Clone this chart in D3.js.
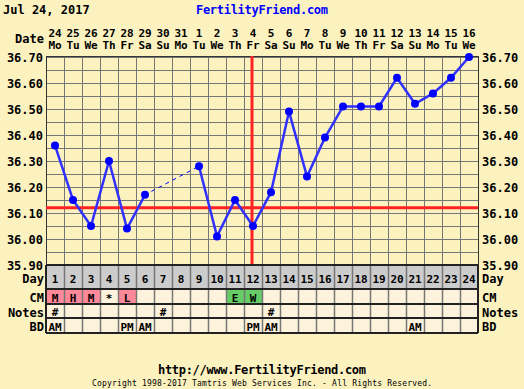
<!DOCTYPE html>
<html>
<head>
<meta charset="utf-8">
<script src="https://cdn.jsdelivr.net/npm/d3@7/dist/d3.min.js"></script>
<style>
  body { margin: 0; background: #fcf2c0; }
  svg { display: block; }
  text { font-family: "DejaVu Sans Mono", monospace; font-weight: bold; font-size: 12px; fill: #000; }
  .sm { font-size: 11px; }
</style>
</head>
<body>
<div id="chart"></div>
<script>
// chart data
const dayNums = d3.range(1, 25);
const dates = ['24', '25', '26', '27', '28', '29', '30', '31', '1', '2', '3', '4',
  '5', '6', '7', '8', '9', '10', '11', '12', '13', '14', '15', '16'];
const weekdays = ['Mo', 'Tu', 'We', 'Th', 'Fr', 'Sa', 'Su', 'Mo', 'Tu', 'We', 'Th', 'Fr',
  'Sa', 'Su', 'Mo', 'Tu', 'We', 'Th', 'Fr', 'Sa', 'Su', 'Mo', 'Tu', 'We'];
// null = no temperature recorded
const temps = [36.36, 36.15, 36.05, 36.30, 36.04, 36.17, null, null, 36.28, 36.01,
  36.15, 36.05, 36.18, 36.49, 36.24, 36.39, 36.51, 36.51, 36.51, 36.62,
  36.52, 36.56, 36.62, 36.70];
const yTicks = [36.70, 36.60, 36.50, 36.40, 36.30, 36.20, 36.10, 36.00, 35.90];
const coverline = 36.12;
const ovulationDay = 12;
const cm = ['M', 'H', 'M', '*', 'L', '', '', '', '', '', 'E', 'W',
  '', '', '', '', '', '', '', '', '', '', '', ''];
const notes = ['#', '', '', '', '', '', '#', '', '', '', '', '',
  '#', '', '', '', '', '', '', '', '', '', '', ''];
const bd = ['AM', '', '', '', 'PM', 'AM', '', '', '', '', '', 'PM',
  'AM', '', '', '', '', '', '', '', 'AM', '', '', ''];
const rowLabels = ['Day', 'CM', 'Notes', 'BD'];

const W = 524, H = 389;
const plotLeft = 46, colW = 18;
const plotRight = plotLeft + colW * dayNums.length;
const plotTop = 57, plotBottom = 265;

const svg = d3.select('#chart').append('svg')
  .attr('width', W)
  .attr('height', H);

svg.append('rect')
  .attr('width', W).attr('height', H)
  .attr('fill', '#fcf2c0');

// scales
const x = d3.scaleBand()
  .domain(dayNums)
  .range([plotLeft, plotRight]);
const y = d3.scaleLinear()
  .domain([35.9, 36.7])
  .range([plotBottom, plotTop]);

// header
svg.append('text').attr('x', 3).attr('y', 14).text('Jul 24, 2017');
svg.append('text').attr('x', 262).attr('y', 14)
  .attr('text-anchor', 'middle').style('fill', '#0000ff')
  .attr('textLength', 132)
  .text('FertilityFriend.com');
svg.append('text').attr('x', 44).attr('y', 43)
  .attr('text-anchor', 'end').text('Date');

svg.append('g').selectAll('text')
  .data(dayNums)
  .join('text')
  .attr('class', 'sm')
  .attr('x', d => x(d) + colW / 2)
  .attr('y', 37)
  .attr('text-anchor', 'middle')
  .text((d, i) => dates[i]);

svg.append('g').selectAll('text')
  .data(dayNums)
  .join('text')
  .attr('class', 'sm')
  .attr('x', d => x(d) + colW / 2)
  .attr('y', 49)
  .attr('text-anchor', 'middle')
  .text((d, i) => weekdays[i]);

// grid
const grid = svg.append('g')
  .attr('stroke', '#777')
  .attr('stroke-width', 1);

grid.selectAll('line.h')
  .data(d3.range(35.9, 36.7001, 0.05))
  .join('line')
  .attr('class', 'h')
  .attr('x1', plotLeft).attr('x2', plotRight)
  .attr('y1', d => Math.round(y(d)) + 0.5)
  .attr('y2', d => Math.round(y(d)) + 0.5);

grid.selectAll('line.v')
  .data(dayNums.slice(1))
  .join('line')
  .attr('class', 'v')
  .attr('x1', d => x(d) + 0.5).attr('x2', d => x(d) + 0.5)
  .attr('y1', plotTop).attr('y2', plotBottom);

svg.append('rect')
  .attr('x', plotLeft + 0.5).attr('y', plotTop - 0.5)
  .attr('width', plotRight - plotLeft).attr('height', plotBottom - plotTop + 1)
  .attr('fill', 'none')
  .attr('stroke', '#333')
  .attr('stroke-width', 1);

// y labels, both sides
const yAxisL = d3.axisLeft(y).tickValues(yTicks).tickSize(0).tickPadding(3)
  .tickFormat(d3.format('.2f'));
const yAxisR = d3.axisRight(y).tickValues(yTicks).tickSize(0).tickPadding(4)
  .tickFormat(d3.format('.2f'));

[[yAxisL, plotLeft], [yAxisR, plotRight]].forEach(function(a) {
  const g = svg.append('g')
    .attr('transform', 'translate(' + a[1] + ',0)')
    .call(a[0]);
  g.select('.domain').remove();
  g.attr('font-family', null).attr('font-size', null);
  g.selectAll('text')
    .attr('dy', '0.35em')
    .style('fill', '#000');
});

// coverline & ovulation line
svg.append('line')
  .attr('x1', plotLeft).attr('x2', plotRight)
  .attr('y1', y(coverline)).attr('y2', y(coverline))
  .attr('stroke', '#ff2222').attr('stroke-width', 3);

svg.append('line')
  .attr('x1', x(ovulationDay) + colW / 2 - 1).attr('x2', x(ovulationDay) + colW / 2 - 1)
  .attr('y1', plotTop - 1).attr('y2', plotBottom)
  .attr('stroke', '#ff2222').attr('stroke-width', 3);

// temperature line
const pts = dayNums.map((d, i) => ({day: d, t: temps[i]}));
const line = d3.line()
  .defined(d => d.t !== null)
  .x(d => x(d.day) + colW / 2)
  .y(d => y(d.t));

const known = pts.filter(d => d.t !== null);
// dashed bridge across missing days
svg.append('path')
  .datum(known)
  .attr('d', line)
  .attr('fill', 'none')
  .attr('stroke', '#0000ff')
  .attr('stroke-width', 1)
  .attr('stroke-dasharray', '4,4');

svg.append('path')
  .datum(pts)
  .attr('d', line)
  .attr('fill', 'none')
  .attr('stroke', '#3030ff')
  .attr('stroke-width', 2.5);

svg.append('g').selectAll('circle')
  .data(known)
  .join('circle')
  .attr('cx', d => x(d.day) + colW / 2)
  .attr('cy', d => y(d.t))
  .attr('r', 4)
  .attr('fill', '#0000ff');

// table below the chart
const rowY = [265, 289, 304, 318, 333];
const rows = [dayNums.map(String), cm, notes, bd];

function cellFill(r, v) {
  if (r === 0) return '#cccccc';
  if (r === 1) {
    if (v !== '' && 'MHL'.indexOf(v) >= 0) return '#ff8899';
    if (v !== '' && 'EW'.indexOf(v) >= 0) return '#66cc66';
  }
  return '#fdf3dc';
}

rows.forEach(function(vals, r) {
  const g = svg.append('g');
  const y0 = rowY[r], h = rowY[r + 1] - rowY[r];
  const ty = y0 + h / 2 + (r === 0 ? 2 : 1.5);
  g.selectAll('rect')
    .data(dayNums)
    .join('rect')
    .attr('x', d => x(d))
    .attr('y', y0)
    .attr('width', colW)
    .attr('height', h)
    .attr('fill', (d, i) => cellFill(r, vals[i]));
  g.selectAll('text')
    .data(dayNums)
    .join('text')
    .attr('class', 'sm')
    .attr('x', d => x(d) + colW / 2)
    .attr('y', ty)
    .attr('dy', '0.36em')
    .attr('text-anchor', 'middle')
    .text((d, i) => vals[i]);

  svg.append('text').attr('x', 44).attr('y', ty).attr('dy', '0.36em')
    .attr('text-anchor', 'end').text(rowLabels[r]);
  svg.append('text').attr('x', plotRight + 4).attr('y', ty).attr('dy', '0.36em')
    .text(rowLabels[r]);
});

// table lines
const tl = svg.append('g');
tl.selectAll('line.v')
  .data(dayNums.slice(1))
  .join('line')
  .attr('class', 'v')
  .attr('x1', d => x(d) + 0.5).attr('x2', d => x(d) + 0.5)
  .attr('y1', rowY[0]).attr('y2', rowY[4])
  .attr('stroke', '#777').attr('stroke-width', 1.5);
tl.selectAll('line.h')
  .data(rowY)
  .join('line')
  .attr('class', 'h')
  .attr('x1', plotLeft).attr('x2', plotRight)
  .attr('y1', d => d).attr('y2', d => d)
  .attr('stroke', '#222').attr('stroke-width', 2);
tl.selectAll('line.side')
  .data([plotLeft, plotRight])
  .join('line')
  .attr('class', 'side')
  .attr('x1', d => d).attr('x2', d => d)
  .attr('y1', rowY[0]).attr('y2', rowY[4])
  .attr('stroke', '#222').attr('stroke-width', 2);

// footer
svg.append('text').attr('x', 262).attr('y', 374)
  .attr('text-anchor', 'middle')
  .attr('textLength', 208)
  .text('http://www.FertilityFriend.com');
svg.append('text').attr('x', 262).attr('y', 386)
  .attr('text-anchor', 'middle')
  .attr('textLength', 340)
  .style('font-size', '8px').style('font-weight', 'normal')
  .text('Copyright 1998-2017 Tamtris Web Services Inc. - All Rights Reserved.');
</script>
</body>
</html>
